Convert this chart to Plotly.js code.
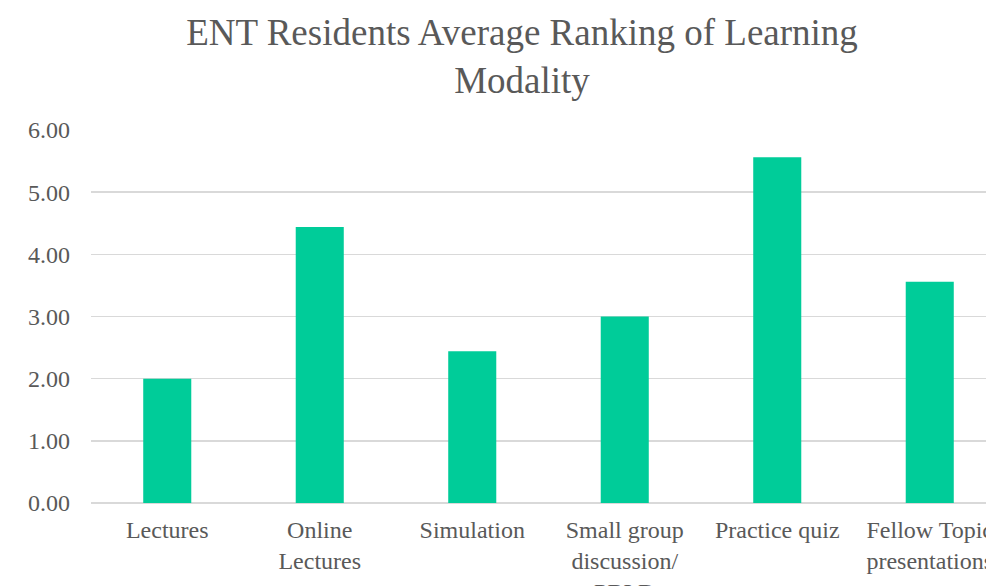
<!DOCTYPE html>
<html>
<head>
<meta charset="utf-8">
<script src="https://cdn.plot.ly/plotly-3.0.1.min.js"></script>
<style>
html,body{margin:0;padding:0;overflow:hidden;background:#fff;}
#chart{width:1044px;height:620px;}
</style>
</head>
<body>
<div id="chart"></div>
<script>
const categories = ["Lectures", "Online<br>Lectures", "Simulation", "Small group<br>discussion/<br>PBLD", "Practice quiz", "Fellow Topic<br>presentations"];
const values = [2.00, 4.44, 2.44, 3.00, 5.56, 3.56];
const yTicks = [0, 1, 2, 3, 4, 5, 6];

const W = 1044, H = 620;
const FONT = 'Liberation Serif, Times New Roman, serif';
const trace = {
  type: 'bar',
  x: categories,
  y: values,
  marker: {color: '#00CC99'},
  hoverinfo: 'x+y'
};
const layout = {
  width: W, height: H,
  margin: {l: 91, r: 38, t: 130, b: 117},
  paper_bgcolor: '#fff', plot_bgcolor: '#fff',
  bargap: 0.685,
  showlegend: false,
  title: {
    text: 'ENT Residents Average Ranking of Learning<br>Modality',
    font: {family: FONT, size: 37, color: '#595959'},
    xref: 'container', x: 522 / W, xanchor: 'center',
    yref: 'container', y: 1 - 45 / H, yanchor: 'top'
  },
  xaxis: {
    type: 'category',
    range: [-0.5, 5.5],
    showgrid: false, zeroline: false, showline: false,
    ticks: '',
    ticklabelstandoff: 10,
    tickfont: {family: FONT, size: 24, color: '#595959'}
  },
  yaxis: {
    range: [0, 6],
    tickvals: yTicks,
    tickformat: '.2f',
    showgrid: true, gridcolor: '#D9D9D9', gridwidth: 1.5,
    zeroline: true, zerolinecolor: '#D9D9D9', zerolinewidth: 1.5,
    showline: false, ticks: '',
    ticklabelstandoff: 20,
    tickfont: {family: FONT, size: 24, color: '#595959'}
  }
};
Plotly.newPlot('chart', [trace], layout, {displayModeBar: false, staticPlot: true});
</script>
</body>
</html>
